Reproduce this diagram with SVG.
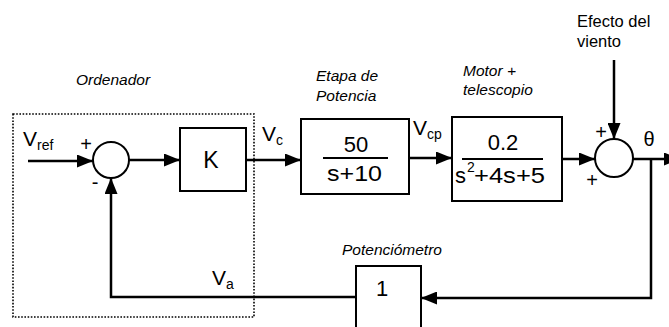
<svg xmlns="http://www.w3.org/2000/svg" width="669" height="327" viewBox="0 0 669 327">
<defs>
<marker id="ah" markerWidth="16" markerHeight="13" refX="16" refY="6.5" orient="auto" markerUnits="userSpaceOnUse">
<path d="M0,0 L16,6.5 L0,13 Z" fill="#000"/>
</marker>
<style>
.t{font-family:"Liberation Sans",Arial,sans-serif;fill:#000}
.i{font-style:italic;font-size:15.5px}
.blk{fill:#fff;stroke:#000;stroke-width:2}
.ln{fill:none;stroke:#000;stroke-width:2.5}
.m{font-size:22px}
.s{font-size:14px}
</style>
</defs>
<rect width="669" height="327" fill="#fff"/>
<rect id="ordenador-box" x="13" y="114" width="241" height="203" fill="none" stroke="#000" stroke-width="1.6" stroke-dasharray="1.6,1.6"/>
<g id="connectors">
<line class="ln" x1="28" y1="161" x2="93" y2="161" marker-end="url(#ah)"/>
<line class="ln" x1="129" y1="160" x2="180" y2="160" marker-end="url(#ah)"/>
<line class="ln" x1="246" y1="160" x2="301" y2="160" marker-end="url(#ah)"/>
<line class="ln" x1="409" y1="158" x2="452" y2="158" marker-end="url(#ah)"/>
<line class="ln" x1="562" y1="159" x2="595" y2="159" marker-end="url(#ah)"/>
<line class="ln" x1="614" y1="60" x2="614" y2="139" marker-end="url(#ah)"/>
<line class="ln" x1="633" y1="159" x2="680" y2="159" marker-end="url(#ah)"/>
<polyline class="ln" points="651,159 651,298 421,298" marker-end="url(#ah)"/>
<polyline class="ln" points="356,297 111,297 111,178" marker-end="url(#ah)"/>
</g>
<g id="sum1">
<circle cx="111" cy="160" r="18" fill="#fff" stroke="#000" stroke-width="2"/>
<text class="t" x="86" y="151" font-size="20" text-anchor="middle">+</text>
<text class="t" x="95" y="189" font-size="20" text-anchor="middle">-</text>
</g>
<g id="K">
<rect class="blk" x="180" y="128" width="66" height="63"/>
<text class="t" x="211" y="168" font-size="23" text-anchor="middle">K</text>
</g>
<g id="etapa">
<rect class="blk" x="301" y="119" width="108" height="75"/>
<text class="t m" x="356" y="152" text-anchor="middle">50</text>
<line x1="323" y1="158" x2="388" y2="158" stroke="#000" stroke-width="2"/>
<text class="t m" x="327" y="181" textLength="55" lengthAdjust="spacingAndGlyphs">s+10</text>
</g>
<g id="motor">
<rect class="blk" x="452" y="117" width="110" height="84"/>
<text class="t m" x="503" y="150" text-anchor="middle">0.2</text>
<line x1="462" y1="159" x2="543" y2="159" stroke="#000" stroke-width="2"/>
<text class="t m" x="455" y="183">s</text>
<text class="t" x="467" y="172" font-size="14">2</text>
<text class="t m" x="474" y="183" textLength="71" lengthAdjust="spacingAndGlyphs">+4s+5</text>
</g>
<g id="sum2">
<circle cx="614" cy="158" r="19" fill="#fff" stroke="#000" stroke-width="2"/>
<text class="t" x="601" y="139" font-size="20" text-anchor="middle">+</text>
<text class="t" x="592" y="187" font-size="20" text-anchor="middle">+</text>
</g>
<g id="potenciometro">
<rect class="blk" x="356" y="266" width="65" height="70"/>
<text class="t m" x="382" y="296" text-anchor="middle">1</text>
</g>
<g id="labels">
<text class="t" x="23" y="146" font-size="21">V<tspan class="s" dy="4">ref</tspan></text>
<text class="t" x="262" y="141" font-size="21">V<tspan class="s" dy="4">c</tspan></text>
<text class="t" x="413" y="135" font-size="21">V<tspan class="s" dy="4">cp</tspan></text>
<text class="t" x="212" y="285" font-size="21">V<tspan class="s" dy="4">a</tspan></text>
<text class="t" x="649" y="146" font-size="20" text-anchor="middle">θ</text>
<text class="t" x="577" y="27" font-size="16.5">Efecto del</text>
<text class="t" x="577" y="47" font-size="16.5">viento</text>
<text class="t i" x="76" y="85">Ordenador</text>
<text class="t i" x="316" y="81">Etapa de</text>
<text class="t i" x="316" y="101">Potencia</text>
<text class="t i" x="463" y="76">Motor +</text>
<text class="t i" x="463" y="95">telescopio</text>
<text class="t i" x="342" y="255">Potenciómetro</text>
</g>
</svg>
